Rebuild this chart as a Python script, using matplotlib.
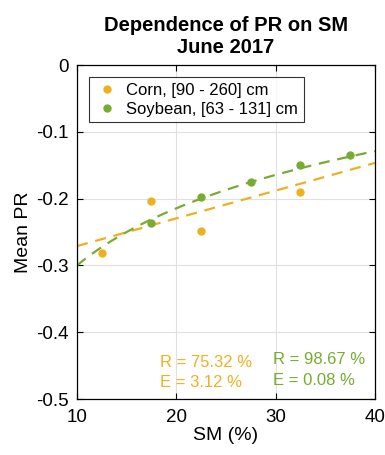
import numpy as np
import matplotlib.pyplot as plt

plt.rcParams['font.family'] = ['Liberation Sans', 'DejaVu Sans']

# soil moisture (%) and mean PR per crop
corn_sm = [12.5, 17.5, 22.5, 32.5]
corn_pr = [-0.282, -0.203, -0.249, -0.190]
soy_sm = [17.5, 22.5, 27.5, 32.5, 37.5]
soy_pr = [-0.237, -0.198, -0.175, -0.150, -0.135]

# fitted models: corn linear (slope, intercept), soybean logarithmic (a + b*ln x)
corn_fit = [0.00415, -0.3125]
soy_fit = [-0.5841, 0.1234]

corn_stats = ['R = 75.32 %', 'E = 3.12 %']
soy_stats = ['R = 98.67 %', 'E = 0.08 %']

corn_col = '#EDB120'
soy_col = '#77AC30'

fig = plt.figure(figsize=(3.85, 4.55), dpi=100)
ax = fig.add_axes([0.2, 0.123, 0.774, 0.734])

xs = np.linspace(10, 40, 200)
ax.plot(xs, corn_fit[0] * xs + corn_fit[1], '--', color=corn_col, lw=1.6,
        dashes=(5, 3.5), zorder=2)
ax.plot(xs, soy_fit[0] + soy_fit[1] * np.log(xs), '--', color=soy_col, lw=1.6,
        dashes=(5, 3.5), zorder=2)
ax.plot(corn_sm, corn_pr, 'o', color=corn_col, ms=5, zorder=3,
        label='Corn, [90 - 260] cm')
ax.plot(soy_sm, soy_pr, 'o', color=soy_col, ms=5, zorder=3,
        label='Soybean, [63 - 131] cm')

ax.set_xlim(10, 40)
ax.set_ylim(-0.5, 0)
ax.set_xticks([10, 20, 30, 40])
ax.set_yticks([-0.5, -0.4, -0.3, -0.2, -0.1, 0])
ax.set_yticklabels(['-0.5', '-0.4', '-0.3', '-0.2', '-0.1', '0'])
ax.grid(True, color='#e0e0e0', lw=0.8)
ax.set_axisbelow(True)
ax.tick_params(direction='in', top=True, right=True, labelsize=13.5,
               length=4, width=0.8, pad=6)
ax.tick_params(axis='x', pad=7)
for s in ax.spines.values():
    s.set_linewidth(0.9)

ax.set_xlabel('SM (%)', fontsize=14, labelpad=1)
ax.set_ylabel('Mean PR', fontsize=14, labelpad=3)
ax.set_title('Dependence of PR on SM\nJune 2017', fontsize=14.5,
             fontweight='bold', pad=9, linespacing=1.2)

leg = ax.legend(loc='upper left', bbox_to_anchor=(0.04, 0.964), fontsize=12,
                frameon=True, fancybox=False, edgecolor='black',
                handletextpad=0.4, handlelength=1.5, borderpad=0.35,
                labelspacing=0.22, borderaxespad=0)
leg.get_frame().set_linewidth(0.8)

for i, line in enumerate(corn_stats):
    ax.text(18.36, -0.4517 - 0.0308 * i, line, color=corn_col, fontsize=12,
            va='baseline')
for i, line in enumerate(soy_stats):
    ax.text(29.77, -0.4476 - 0.0314 * i, line, color=soy_col, fontsize=12,
            va='baseline')

fig.savefig('out.png', dpi=100)
